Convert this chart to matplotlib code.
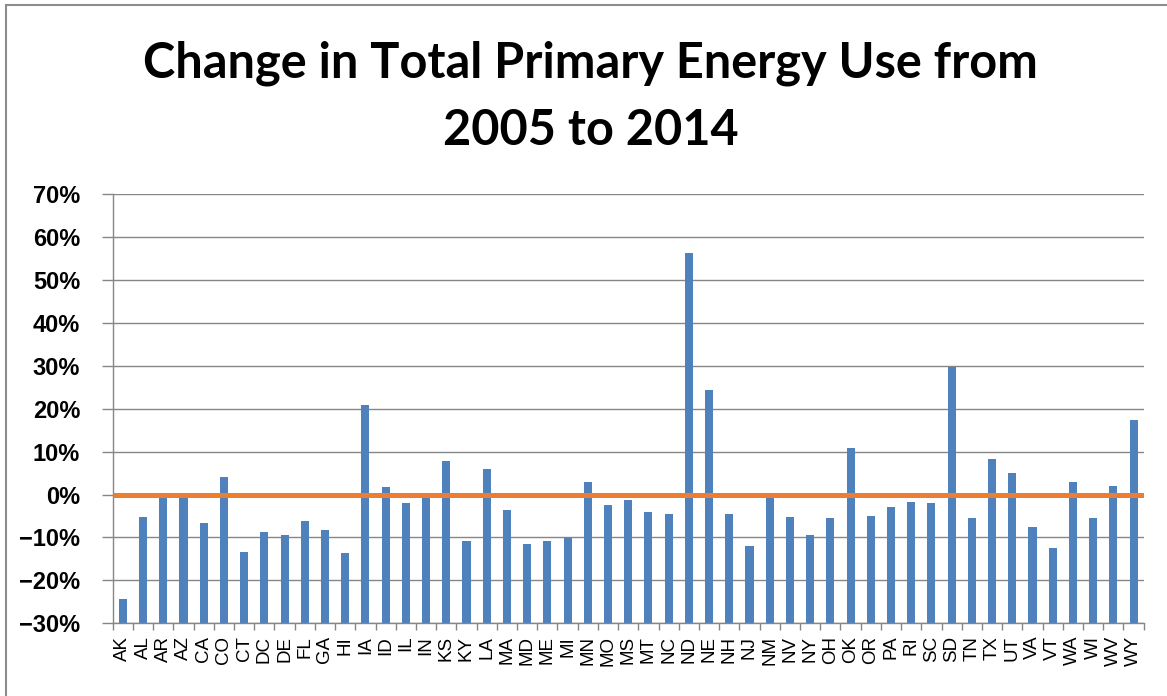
import matplotlib
matplotlib.use("Agg")
import matplotlib.pyplot as plt
from matplotlib.patches import Rectangle
from matplotlib.ticker import FixedLocator, PercentFormatter
import numpy as np

states = ["AK", "AL", "AR", "AZ", "CA", "CO", "CT", "DC", "DE", "FL", "GA", "HI",
          "IA", "ID", "IL", "IN", "KS", "KY", "LA", "MA", "MD", "ME", "MI", "MN",
          "MO", "MS", "MT", "NC", "ND", "NE", "NH", "NJ", "NM", "NV", "NY", "OH",
          "OK", "OR", "PA", "RI", "SC", "SD", "TN", "TX", "UT", "VA", "VT", "WA",
          "WI", "WV", "WY"]
# percent change in total primary energy use, 2005 -> 2014
change = [-24.4, -5.3, -0.3, -0.2, -6.7, 4.2, -13.3, -8.7, -9.5, -6.2, -8.3, -13.7,
          20.8, 1.7, -2.0, -0.6, 7.9, -10.8, 5.9, -3.7, -11.6, -10.8, -10.2, 2.9,
          -2.5, -1.3, -4.1, -4.6, 56.4, 24.4, -4.6, -12.0, -0.5, -5.3, -9.5, -5.4,
          10.8, -5.0, -2.8, -1.7, -2.0, 29.8, -5.4, 8.3, 5.0, -7.5, -12.5, 2.9,
          -5.4, 2.1, 17.4]
zero_line = [0.0] * len(states)
y_min, y_max = -30, 70

fig = plt.figure(figsize=(11.67, 6.96), dpi=100)
ax = fig.add_axes([0.0966, 0.1045, 0.8834, 0.6163])

x = np.arange(len(states))
vals = np.array(change)
# category axis crosses at the minimum, so bars grow up from the bottom
ax.bar(x, vals - y_min, bottom=y_min, width=0.4, color="#4F81BD", zorder=2)
ax.plot([-0.5] + list(x) + [len(states) - 0.5], [0.0] + zero_line + [0.0],
        color="#ED7D31", lw=3.6, zorder=3, solid_capstyle="butt")

ax.set_xlim(-0.5, len(states) - 0.5)
ax.set_ylim(y_min, y_max)
ax.set_yticks(np.arange(y_min, y_max + 1, 10))
ax.yaxis.set_major_formatter(PercentFormatter(decimals=0))
ax.grid(axis="y", color="#868686", lw=1.0, zorder=0)

ax.set_xticks(x)
ax.set_xticklabels(states, rotation=90, fontsize=13.5, family="Liberation Sans")
ax.tick_params(axis="x", which="major", length=0, pad=9)
ax.xaxis.set_minor_locator(FixedLocator(np.arange(-0.5, len(states), 1.0)))
ax.tick_params(axis="x", which="minor", length=5, color="#868686", width=1)
ax.tick_params(axis="y", length=8, color="#868686", width=1, pad=15.5)
for lab in ax.get_yticklabels():
    lab.set_fontweight("bold")
    lab.set_fontsize(17)
    lab.set_family("Liberation Sans")

for side in ["top", "right"]:
    ax.spines[side].set_visible(False)
for side in ["left", "bottom"]:
    ax.spines[side].set_color("#868686")
    ax.spines[side].set_linewidth(1)

fig.text(0.506, 0.888, "Change in Total Primary Energy Use from", ha="center",
         va="baseline", fontsize=35, fontweight="bold", family="Lato")
fig.text(0.506, 0.792, "2005 to 2014", ha="center", va="baseline",
         fontsize=35, fontweight="bold", family="Lato")

# chart frame (only top and left edges fall inside the image)
fig.patches.append(Rectangle((0.005, -0.02), 1.05, 1.013, transform=fig.transFigure,
                             fill=False, edgecolor="#8c8c8c", lw=1.5))

fig.savefig("out.png", dpi=100)
